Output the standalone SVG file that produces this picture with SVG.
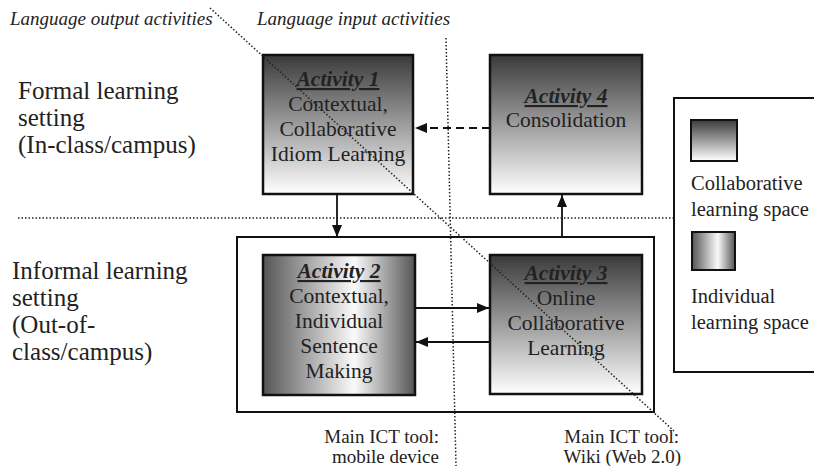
<svg xmlns="http://www.w3.org/2000/svg" width="814" height="466" viewBox="0 0 814 466" font-family="'Liberation Serif', 'Times New Roman', serif">
<style>
text{font-family:'Liberation Serif','Times New Roman',serif;fill:#222}
.lbl{font-size:25px}
.top{font-size:19px;font-style:italic}
.act{font-size:21.5px;text-anchor:middle}
.ttl{font-weight:bold;font-style:italic;text-decoration:underline}
.leg{font-size:20.5px}
.tool{font-size:19px;text-anchor:end}
.box{stroke:#111;stroke-width:2.5}
.dot{fill:none;stroke:#222;stroke-width:1.5;stroke-dasharray:1.5 2}
.conn{fill:none;stroke:#111;stroke-width:1.8}
</style>
<defs>
<linearGradient id="collab" x1="0" y1="0" x2="0" y2="1">
<stop offset="0" stop-color="#3a3a3a"/>
<stop offset="1" stop-color="#ffffff"/>
</linearGradient>
<linearGradient id="indiv" x1="0" y1="0" x2="1" y2="0">
<stop offset="0" stop-color="#555"/>
<stop offset="0.6" stop-color="#fafafa"/>
<stop offset="1" stop-color="#555"/>
</linearGradient>
<marker id="arr" viewBox="0 0 12 10" refX="12" refY="5" markerWidth="12" markerHeight="10" markerUnits="userSpaceOnUse" orient="auto">
<path d="M0,0 L12,5 L0,10 Z" fill="#111"/>
</marker>
</defs>

<g id="settings">
<text class="top" x="10" y="25">Language output activities</text>
<text class="top" x="257" y="25">Language input activities</text>
<text class="lbl" x="18" y="99">Formal learning</text>
<text class="lbl" x="18" y="126">setting</text>
<text class="lbl" x="18" y="153">(In-class/campus)</text>
<text class="lbl" x="12" y="279">Informal learning</text>
<text class="lbl" x="12" y="306">setting</text>
<text class="lbl" x="12" y="333">(Out-of-</text>
<text class="lbl" x="12" y="360">class/campus)</text>
<text class="tool" x="439" y="443">Main ICT tool:</text>
<text class="tool" x="439" y="463">mobile device</text>
<text class="tool" x="679" y="443">Main ICT tool:</text>
<text class="tool" x="681" y="463">Wiki (Web 2.0)</text>
</g>

<g id="informal-space">
<rect x="237" y="237" width="417" height="175" fill="#fff" stroke="#111" stroke-width="2"/>
</g>

<g id="activity1">
<rect class="box" x="263" y="55" width="150" height="139" fill="url(#collab)"/>
<text class="act" x="338" y="86"><tspan class="ttl">Activity 1</tspan></text>
<text class="act" x="338" y="111">Contextual,</text>
<text class="act" x="338" y="136">Collaborative</text>
<text class="act" x="338" y="161">Idiom Learning</text>
</g>

<g id="activity4">
<rect class="box" x="490" y="55" width="152" height="139" fill="url(#collab)"/>
<text class="act" x="566" y="103"><tspan class="ttl">Activity 4</tspan></text>
<text class="act" x="566" y="127">Consolidation</text>
</g>

<g id="activity2">
<rect class="box" x="263" y="255" width="152" height="140" fill="url(#indiv)"/>
<text class="act" x="339" y="278"><tspan class="ttl">Activity 2</tspan></text>
<text class="act" x="339" y="303">Contextual,</text>
<text class="act" x="339" y="328">Individual</text>
<text class="act" x="339" y="353">Sentence</text>
<text class="act" x="339" y="378">Making</text>
</g>

<g id="activity3">
<rect class="box" x="490" y="255" width="152" height="139" fill="url(#collab)"/>
<text class="act" x="566" y="280"><tspan class="ttl">Activity 3</tspan></text>
<text class="act" x="566" y="305">Online</text>
<text class="act" x="566" y="330">Collaborative</text>
<text class="act" x="566" y="355">Learning</text>
</g>

<g id="legend">
<rect x="674" y="98" width="150" height="274" fill="#fff" stroke="#111" stroke-width="2"/>
<rect x="691" y="120" width="46" height="41" fill="url(#collab)" stroke="#111" stroke-width="2"/>
<text class="leg" x="691" y="190">Collaborative</text>
<text class="leg" x="691" y="216">learning space</text>
<rect x="692" y="232" width="43" height="38" fill="url(#indiv)" stroke="#111" stroke-width="2"/>
<text class="leg" x="691" y="303">Individual</text>
<text class="leg" x="691" y="329">learning space</text>
</g>

<g id="connectors">
<line class="conn" x1="337" y1="195" x2="337" y2="237" marker-end="url(#arr)"/>
<line class="conn" x1="562" y1="237" x2="562" y2="195" marker-end="url(#arr)"/>
<line class="conn" x1="490" y1="128" x2="415" y2="128" stroke-dasharray="8 5" marker-end="url(#arr)"/>
<line class="conn" x1="416" y1="308" x2="489" y2="308" marker-end="url(#arr)"/>
<line class="conn" x1="489" y1="342" x2="416" y2="342" marker-end="url(#arr)"/>
</g>

<g id="dividers">
<line class="dot" x1="18" y1="218" x2="674" y2="218"/>
<line class="dot" x1="446" y1="38" x2="456" y2="466"/>
<line class="dot" x1="210" y1="8" x2="674" y2="431"/>
</g>
</svg>
